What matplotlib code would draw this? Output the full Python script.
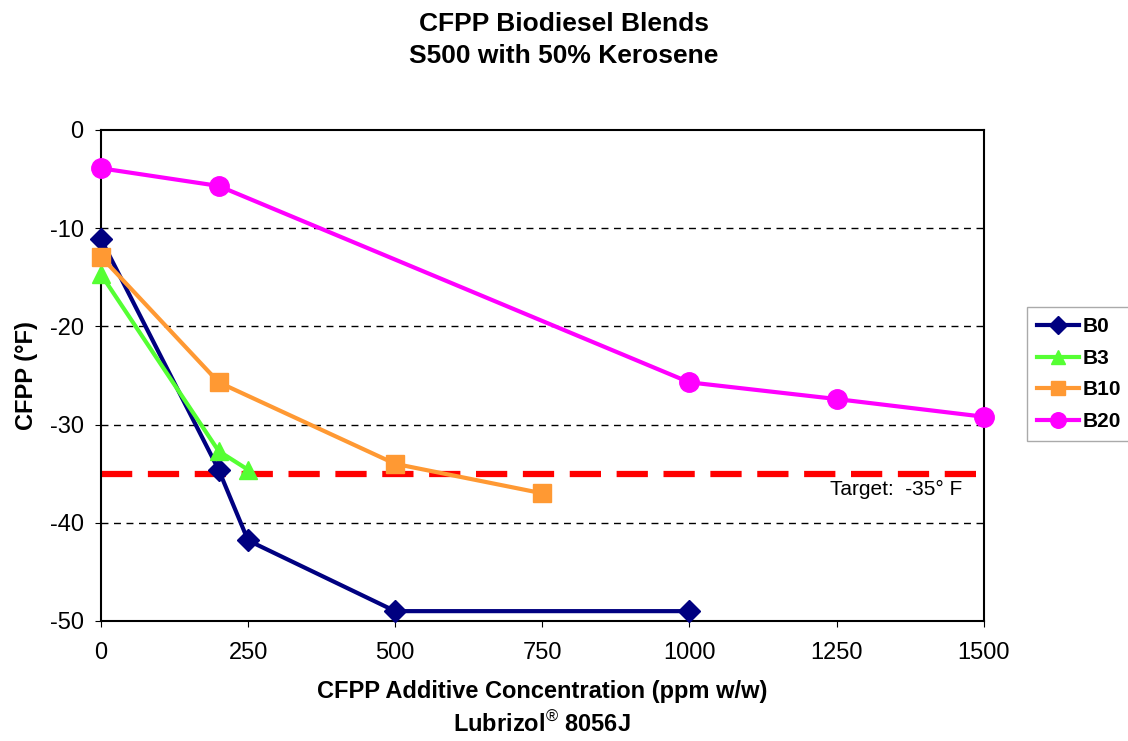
import matplotlib.pyplot as plt

plt.rcParams['font.family'] = ['Liberation Sans', 'DejaVu Sans']
plt.rcParams['axes.unicode_minus'] = False
plt.rcParams['mathtext.fontset'] = 'custom'
plt.rcParams['mathtext.rm'] = 'Liberation Sans'
plt.rcParams['mathtext.bf'] = 'Liberation Sans:bold'

# data
b0_x = [0, 200, 250, 500, 1000]
b0_y = [-11.1, -34.6, -41.8, -49.0, -49.0]
b3_x = [0, 200, 250]
b3_y = [-14.7, -32.7, -34.6]
b10_x = [0, 200, 500, 750]
b10_y = [-12.9, -25.7, -34.0, -37.0]
b20_x = [0, 200, 1000, 1250, 1500]
b20_y = [-3.9, -5.7, -25.7, -27.4, -29.2]
target = -35

fig = plt.figure(figsize=(11.28, 7.41), dpi=100)
ax = fig.add_axes([0.0895, 0.162, 0.7825, 0.6626])

ax.plot(b0_x, b0_y, color='#000080', lw=3, marker='D', ms=11, label='B0', clip_on=False, zorder=3)
ax.plot(b3_x, b3_y, color='#55ff33', lw=3, marker='^', ms=13, label='B3', clip_on=False, zorder=3)
ax.plot(b10_x, b10_y, color='#ff9933', lw=3, marker='s', ms=13, label='B10', clip_on=False, zorder=3)
ax.plot(b20_x, b20_y, color='#ff00ff', lw=3, marker='o', ms=14, label='B20', clip_on=False, zorder=3)

ax.plot([0, 1510], [target, target], color='#ff0000', lw=4.5, dashes=(5, 2.5),
        clip_on=False, zorder=2)
ax.text(1464, target - 0.6, 'Target:  -35° F', ha='right', va='top', fontsize=15)

ax.set_xlim(0, 1500)
ax.set_ylim(-50, 0)
ax.set_xticks([0, 250, 500, 750, 1000, 1250, 1500])
ax.set_yticks([0, -10, -20, -30, -40, -50])
ax.tick_params(labelsize=17, length=4.5, direction='out')
ax.tick_params(axis='x', pad=11)
ax.tick_params(axis='y', pad=8)
for y in [-10, -20, -30, -40]:
    ax.axhline(y, color='black', lw=1, ls=(0, (5, 4)), zorder=1)
for s in ax.spines.values():
    s.set_linewidth(1.5)

ax.set_ylabel('CFPP (°F)', fontsize=17, fontweight='bold', labelpad=8)
ax.set_xlabel('CFPP Additive Concentration (ppm w/w)\nLubrizol$^{®}$ 8056J',
              fontsize=17, fontweight='bold', linespacing=1.4, labelpad=11)
fig.suptitle('CFPP Biodiesel Blends\nS500 with 50% Kerosene', x=0.5, y=0.946,
             va='center', fontsize=19, fontweight='bold', linespacing=1.4)

leg = ax.legend(loc='upper left', bbox_to_anchor=(1.0487, 0.6395), frameon=True,
                fancybox=False, edgecolor='#aaaaaa', framealpha=1,
                prop={'weight': 'bold', 'size': 15}, handlelength=2.0,
                handletextpad=0.2, borderpad=0.5, labelspacing=0.6,
                markerscale=0.8, borderaxespad=0)

fig.savefig('out.png', dpi=100)
